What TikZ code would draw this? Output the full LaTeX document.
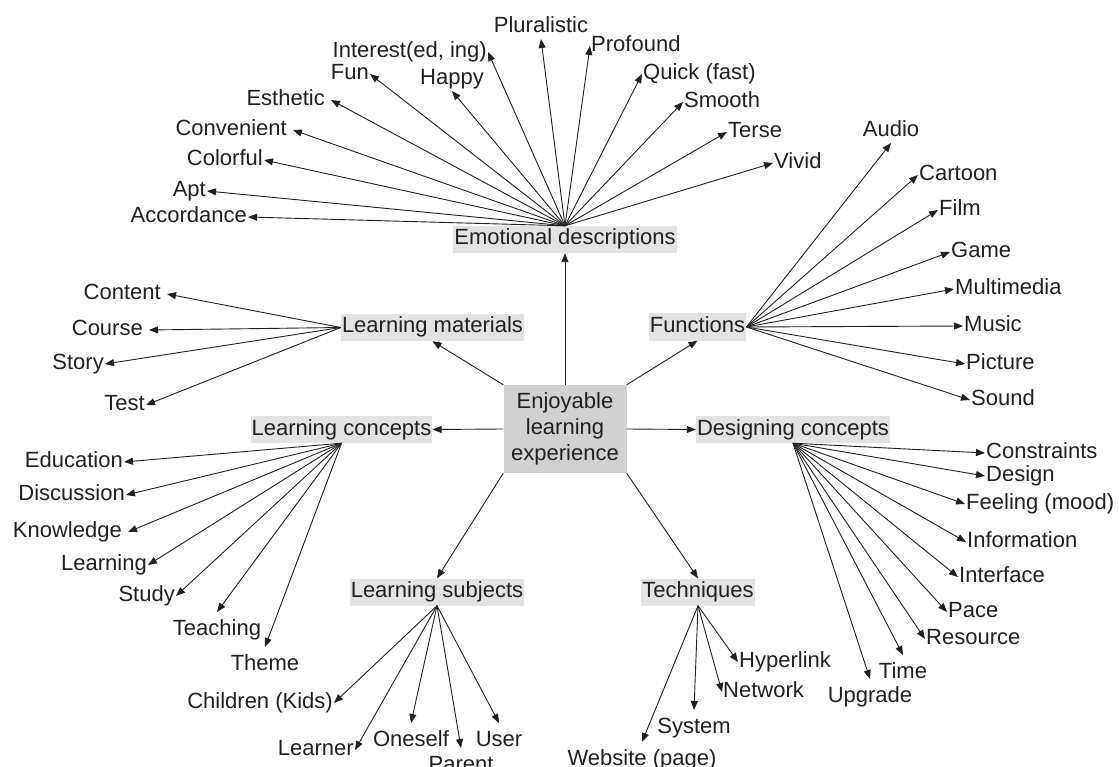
\documentclass[tikz,border=0pt]{standalone}
\usepackage{fontspec}
\setmainfont{Liberation Sans}
\usetikzlibrary{arrows.meta}
\definecolor{ink}{HTML}{231F20}
\definecolor{boxgray}{HTML}{E3E3E4}
\definecolor{hubgray}{HTML}{D1D1D2}

\begin{document}
\begin{tikzpicture}[x=1pt, y=-1pt,
    every node/.style={font=\fontsize{22}{26}\selectfont, text=ink},
    leaf/.style={inner sep=1pt, text height=16pt, text depth=5pt},
    gapx/.style={leaf, inner xsep=6pt},
    gapy/.style={leaf, inner ysep=7pt},
    topic/.style={fill=boxgray, inner xsep=1pt, inner ysep=3pt, text height=16pt, text depth=5pt},
    arr/.style={draw=ink, line width=0.9pt, -{Triangle[length=9pt,width=7pt]}}]
    \useasboundingbox (0,0) rectangle (1119,767);

    \node[fill=hubgray, minimum width=123pt, minimum height=88pt, inner sep=0pt, align=center] (hub) at (565,429) {Enjoyable\\learning\\experience};

    \node[topic] (emo) at (565,239.5) {Emotional descriptions};
    \node[topic] (lmat) at (432.5,327.5) {Learning materials};
    \node[topic] (func) at (697.5,327) {Functions};
    \node[topic] (lcon) at (341.5,429.5) {Learning concepts};
    \node[topic] (dcon) at (793,429.5) {Designing concepts};
    \node[topic] (lsub) at (437,592) {Learning subjects};
    \node[topic] (tech) at (698,592) {Techniques};

    \draw[arr] (hub.north) -- (emo.south);
    \draw[arr] (hub.north west) -- (lmat.south);
    \draw[arr] (hub.north east) -- (func.south);
    \draw[arr] (hub.west) -- (lcon.east);
    \draw[arr] (hub.east) -- (dcon.west);
    \draw[arr] (hub.south west) -- (lsub.north);
    \draw[arr] (hub.south east) -- (tech.north);

    \node[leaf, anchor=east] (acc) at (248,217) {Accordance};
    \node[leaf, anchor=east] (apt) at (207,191) {Apt};
    \node[leaf, anchor=east] (col) at (264,160) {Colorful};
    \node[gapx, anchor=east] (conv) at (293,130) {Convenient};
    \node[gapx, anchor=east] (est) at (331,100) {Esthetic};
    \node[leaf, anchor=east] (fun) at (370,74) {Fun};
    \node[leaf, anchor=south] (hap) at (452,91) {Happy};
    \node[leaf, anchor=east] (intr) at (488,52) {Interest(ed, ing)};
    \node[leaf, anchor=south] (plu) at (541,39) {Pluralistic};
    \node[leaf, anchor=west] (prof) at (590,46) {Profound};
    \node[leaf, anchor=west] (quick) at (642,74) {Quick (fast)};
    \node[leaf, anchor=west] (smooth) at (683,102) {Smooth};
    \node[leaf, anchor=west] (terse) at (727,132) {Terse};
    \node[leaf, anchor=west] (vivid) at (773,163) {Vivid};

    \draw[arr] (emo.north) -- (acc.east);
    \draw[arr] (emo.north) -- (apt.east);
    \draw[arr] (emo.north) -- (col.east);
    \draw[arr] (emo.north) -- (conv.east);
    \draw[arr] (emo.north) -- (est.east);
    \draw[arr] (emo.north) -- (fun.east);
    \draw[arr] (emo.north) -- (hap.south);
    \draw[arr] (emo.north) -- (intr.east);
    \draw[arr] (emo.north) -- (plu.south);
    \draw[arr] (emo.north) -- (prof.west);
    \draw[arr] (emo.north) -- (quick.west);
    \draw[arr] (emo.north) -- (smooth.west);
    \draw[arr] (emo.north) -- (terse.west);
    \draw[arr] (emo.north) -- (vivid.west);

    \node[leaf, anchor=south] (audio) at (891,143) {Audio};
    \node[leaf, anchor=west] (cart) at (918,175) {Cartoon};
    \node[leaf, anchor=west] (film) at (938,210) {Film};
    \node[leaf, anchor=west] (game) at (950,252) {Game};
    \node[leaf, anchor=west] (multi) at (954,289) {Multimedia};
    \node[leaf, anchor=west] (music) at (963,326) {Music};
    \node[leaf, anchor=west] (pic) at (965,364) {Picture};
    \node[leaf, anchor=west] (sound) at (970,400) {Sound};

    \draw[arr] (func.east) -- (audio.south);
    \draw[arr] (func.east) -- (cart.west);
    \draw[arr] (func.east) -- (film.west);
    \draw[arr] (func.east) -- (game.west);
    \draw[arr] (func.east) -- (multi.west);
    \draw[arr] (func.east) -- (music.west);
    \draw[arr] (func.east) -- (pic.west);
    \draw[arr] (func.east) -- (sound.west);

    \node[gapx, anchor=east] (cont) at (167,294) {Content};
    \node[gapx, anchor=east] (course) at (149,330) {Course};
    \node[leaf, anchor=east] (story) at (105,364) {Story};
    \node[leaf, anchor=east] (test) at (146,405) {Test};

    \draw[arr] (lmat.west) -- (cont.east);
    \draw[arr] (lmat.west) -- (course.east);
    \draw[arr] (lmat.west) -- (story.east);
    \draw[arr] (lmat.west) -- (test.east);

    \node[leaf, anchor=east] (edu) at (124,462) {Education};
    \node[leaf, anchor=east] (disc) at (126,495) {Discussion};
    \node[gapx, anchor=east] (know) at (128,532) {Knowledge};
    \node[leaf, anchor=east] (learn) at (148,565) {Learning};
    \node[leaf, anchor=east] (study) at (176,596) {Study};
    \node[gapy, anchor=north] (teach) at (217,612) {Teaching};
    \node[gapy, anchor=north] (theme) at (265,647) {Theme};

    \draw[arr] (lcon.south) -- (edu.east);
    \draw[arr] (lcon.south) -- (disc.east);
    \draw[arr] (lcon.south) -- (know.east);
    \draw[arr] (lcon.south) -- (learn.east);
    \draw[arr] (lcon.south) -- (study.east);
    \draw[arr] (lcon.south) -- (teach.north);
    \draw[arr] (lcon.south) -- (theme.north);

    \node[leaf, anchor=west] (cons) at (985,453) {Constraints};
    \node[leaf, anchor=west] (des) at (985,476) {Design};
    \node[leaf, anchor=west] (feel) at (965,504) {Feeling (mood)};
    \node[leaf, anchor=west] (info) at (966,542) {Information};
    \node[leaf, anchor=west] (inter) at (958,577) {Interface};
    \node[leaf, anchor=west] (pace) at (947,612) {Pace};
    \node[leaf, anchor=west] (res) at (925,639) {Resource};
    \node[gapy, anchor=north] (time) at (903,655) {Time};
    \node[gapy, anchor=north] (upg) at (870,679) {Upgrade};

    \draw[arr] (dcon.south) -- (cons.west);
    \draw[arr] (dcon.south) -- (des.west);
    \draw[arr] (dcon.south) -- (feel.west);
    \draw[arr] (dcon.south) -- (info.west);
    \draw[arr] (dcon.south) -- (inter.west);
    \draw[arr] (dcon.south) -- (pace.west);
    \draw[arr] (dcon.south) -- (res.west);
    \draw[arr] (dcon.south) -- (time.north);
    \draw[arr] (dcon.south) -- (upg.north);

    \node[leaf, anchor=east] (kids) at (334,703) {Children (Kids)};
    \node[leaf, anchor=east] (learner) at (355,750) {Learner};
    \node[gapy, anchor=north] (self) at (411,723) {Oneself};
    \node[gapy, anchor=north] (parent) at (461,748) {Parent};
    \node[gapy, anchor=north] (user) at (499,723) {User};

    \draw[arr] (lsub.south) -- (kids.east);
    \draw[arr] (lsub.south) -- (learner.east);
    \draw[arr] (lsub.south) -- (self.north);
    \draw[arr] (lsub.south) -- (parent.north);
    \draw[arr] (lsub.south) -- (user.north);

    \node[leaf, anchor=west] (hyper) at (738,662) {Hyperlink};
    \node[leaf, anchor=west] (net) at (722,692) {Network};
    \node[gapy, anchor=north] (sys) at (694,710) {System};
    \node[gapy, anchor=north] (web) at (642,742) {Website (page)};

    \draw[arr] (tech.south) -- (hyper.west);
    \draw[arr] (tech.south) -- (net.west);
    \draw[arr] (tech.south) -- (sys.north);
    \draw[arr] (tech.south) -- (web.north);
\end{tikzpicture}
\end{document}
